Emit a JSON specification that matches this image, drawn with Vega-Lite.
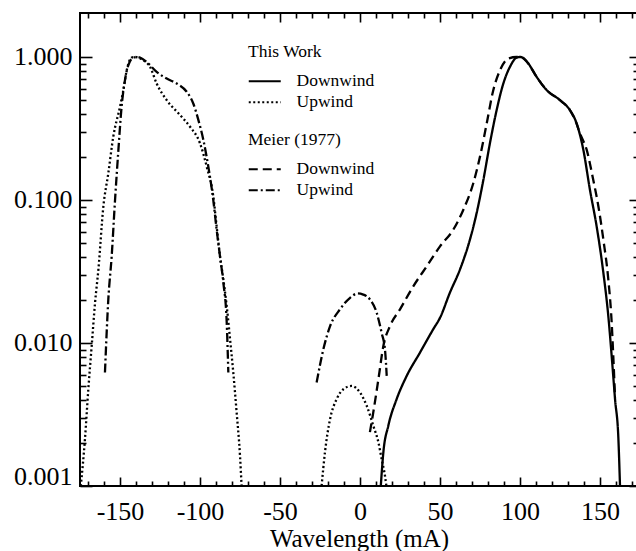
{
  "$schema": "https://vega.github.io/schema/vega-lite/v6.json",
  "width": 558,
  "height": 473,
  "autosize": "none",
  "padding": {"left": 80, "top": 13, "right": 0, "bottom": 65},
  "background": "white",
  "config": {
    "view": {"stroke": "black", "strokeWidth": 2},
    "font": "Liberation Serif",
    "axis": {
      "domain": false, "tickColor": "black", "tickWidth": 1.6,
      "labelColor": "black", "labelFont": "Liberation Serif", "labelFontSize": 26,
      "titleFont": "Liberation Serif", "titleFontSize": 25, "titleColor": "black",
      "titleFontWeight": "normal", "grid": false
    },
    "legend": {
      "labelFont": "Liberation Serif", "labelFontSize": 17.5, "labelColor": "black",
      "titleFont": "Liberation Serif", "titleFontSize": 17.5, "titleColor": "black",
      "titleFontWeight": "normal", "titlePadding": 12, "rowPadding": 2,
      "symbolType": "M-2,0H6", "symbolSize": 64, "symbolStrokeWidth": 2,
      "symbolStrokeColor": "black", "labelOffset": 31, "padding": 0
    }
  },
  "data": {"values": [
    {"s":"T","w":"Downwind","p":"a","x":13,"y":0.001},
    {"s":"T","w":"Downwind","p":"a","x":14.6,"y":0.00172},
    {"s":"T","w":"Downwind","p":"a","x":17.7,"y":0.00264},
    {"s":"T","w":"Downwind","p":"a","x":22.9,"y":0.00405},
    {"s":"T","w":"Downwind","p":"a","x":29.2,"y":0.00589},
    {"s":"T","w":"Downwind","p":"a","x":37.5,"y":0.00857},
    {"s":"T","w":"Downwind","p":"a","x":45.8,"y":0.0125},
    {"s":"T","w":"Downwind","p":"a","x":50,"y":0.015},
    {"s":"T","w":"Downwind","p":"a","x":56.2,"y":0.0225},
    {"s":"T","w":"Downwind","p":"a","x":62.5,"y":0.0327},
    {"s":"T","w":"Downwind","p":"a","x":68.7,"y":0.0528},
    {"s":"T","w":"Downwind","p":"a","x":72.9,"y":0.081},
    {"s":"T","w":"Downwind","p":"a","x":77.1,"y":0.138},
    {"s":"T","w":"Downwind","p":"a","x":81.2,"y":0.249},
    {"s":"T","w":"Downwind","p":"a","x":85.4,"y":0.425},
    {"s":"T","w":"Downwind","p":"a","x":89.6,"y":0.653},
    {"s":"T","w":"Downwind","p":"a","x":93.7,"y":0.852},
    {"s":"T","w":"Downwind","p":"a","x":97.9,"y":0.99},
    {"s":"T","w":"Downwind","p":"a","x":100,"y":1.0},
    {"s":"T","w":"Downwind","p":"a","x":101.5,"y":0.99},
    {"s":"T","w":"Downwind","p":"a","x":105.2,"y":0.9},
    {"s":"T","w":"Downwind","p":"a","x":110.4,"y":0.726},
    {"s":"T","w":"Downwind","p":"a","x":116.7,"y":0.586},
    {"s":"T","w":"Downwind","p":"a","x":125,"y":0.499},
    {"s":"T","w":"Downwind","p":"a","x":131.2,"y":0.425},
    {"s":"T","w":"Downwind","p":"a","x":135.4,"y":0.343},
    {"s":"T","w":"Downwind","p":"a","x":139.6,"y":0.224},
    {"s":"T","w":"Downwind","p":"a","x":143.7,"y":0.118},
    {"s":"T","w":"Downwind","p":"a","x":147.9,"y":0.0654},
    {"s":"T","w":"Downwind","p":"a","x":152.1,"y":0.031},
    {"s":"T","w":"Downwind","p":"a","x":155.2,"y":0.0154},
    {"s":"T","w":"Downwind","p":"a","x":157.3,"y":0.0081},
    {"s":"T","w":"Downwind","p":"a","x":159.4,"y":0.00405},
    {"s":"T","w":"Downwind","p":"a","x":161.5,"y":0.00213},
    {"s":"T","w":"Downwind","p":"a","x":162.5,"y":0.001},

    {"s":"T","w":"Upwind","p":"a","x":-174.5,"y":0.001},
    {"s":"T","w":"Upwind","p":"a","x":-171.9,"y":0.00213},
    {"s":"T","w":"Upwind","p":"a","x":-169.8,"y":0.00475},
    {"s":"T","w":"Upwind","p":"a","x":-167.7,"y":0.00953},
    {"s":"T","w":"Upwind","p":"a","x":-165.6,"y":0.0191},
    {"s":"T","w":"Upwind","p":"a","x":-163.5,"y":0.0327},
    {"s":"T","w":"Upwind","p":"a","x":-160.4,"y":0.0901},
    {"s":"T","w":"Upwind","p":"a","x":-157.3,"y":0.154},
    {"s":"T","w":"Upwind","p":"a","x":-154.2,"y":0.277},
    {"s":"T","w":"Upwind","p":"a","x":-150,"y":0.449},
    {"s":"T","w":"Upwind","p":"a","x":-147.9,"y":0.586},
    {"s":"T","w":"Upwind","p":"a","x":-145.8,"y":0.808},
    {"s":"T","w":"Upwind","p":"a","x":-142.7,"y":0.99},
    {"s":"T","w":"Upwind","p":"a","x":-140.5,"y":1.0},
    {"s":"T","w":"Upwind","p":"a","x":-138,"y":0.985},
    {"s":"T","w":"Upwind","p":"a","x":-135.4,"y":0.948},
    {"s":"T","w":"Upwind","p":"a","x":-131.2,"y":0.852},
    {"s":"T","w":"Upwind","p":"a","x":-127.1,"y":0.653},
    {"s":"T","w":"Upwind","p":"a","x":-120.8,"y":0.499},
    {"s":"T","w":"Upwind","p":"a","x":-112.5,"y":0.393},
    {"s":"T","w":"Upwind","p":"a","x":-106.2,"y":0.325},
    {"s":"T","w":"Upwind","p":"a","x":-100,"y":0.249},
    {"s":"T","w":"Upwind","p":"a","x":-95.8,"y":0.171},
    {"s":"T","w":"Upwind","p":"a","x":-91.7,"y":0.106},
    {"s":"T","w":"Upwind","p":"a","x":-89.6,"y":0.0654},
    {"s":"T","w":"Upwind","p":"a","x":-87.5,"y":0.0404},
    {"s":"T","w":"Upwind","p":"a","x":-85.4,"y":0.0278},
    {"s":"T","w":"Upwind","p":"a","x":-83.3,"y":0.0181},
    {"s":"T","w":"Upwind","p":"a","x":-81.2,"y":0.0106},
    {"s":"T","w":"Upwind","p":"a","x":-79.2,"y":0.00622},
    {"s":"T","w":"Upwind","p":"a","x":-77.1,"y":0.00327},
    {"s":"T","w":"Upwind","p":"a","x":-75,"y":0.00163},
    {"s":"T","w":"Upwind","p":"a","x":-74,"y":0.001},

    {"s":"T","w":"Upwind","p":"b","x":-24,"y":0.001},
    {"s":"T","w":"Upwind","p":"b","x":-21.9,"y":0.00172},
    {"s":"T","w":"Upwind","p":"b","x":-18.7,"y":0.00294},
    {"s":"T","w":"Upwind","p":"b","x":-14.6,"y":0.00405},
    {"s":"T","w":"Upwind","p":"b","x":-10.4,"y":0.00475},
    {"s":"T","w":"Upwind","p":"b","x":-5.2,"y":0.00501},
    {"s":"T","w":"Upwind","p":"b","x":0,"y":0.00451},
    {"s":"T","w":"Upwind","p":"b","x":4.2,"y":0.00364},
    {"s":"T","w":"Upwind","p":"b","x":8.3,"y":0.00264},
    {"s":"T","w":"Upwind","p":"b","x":11.5,"y":0.00202},
    {"s":"T","w":"Upwind","p":"b","x":13.5,"y":0.00155},
    {"s":"T","w":"Upwind","p":"b","x":15.6,"y":0.00118},
    {"s":"T","w":"Upwind","p":"b","x":16.5,"y":0.001},

    {"s":"M","w":"Downwind","p":"a","x":6.2,"y":0.00238},
    {"s":"M","w":"Downwind","p":"a","x":8.3,"y":0.00327},
    {"s":"M","w":"Downwind","p":"a","x":11.5,"y":0.00558},
    {"s":"M","w":"Downwind","p":"a","x":14.6,"y":0.00953},
    {"s":"M","w":"Downwind","p":"a","x":18.7,"y":0.0131},
    {"s":"M","w":"Downwind","p":"a","x":25,"y":0.0172},
    {"s":"M","w":"Downwind","p":"a","x":33.3,"y":0.0249},
    {"s":"M","w":"Downwind","p":"a","x":41.7,"y":0.0344},
    {"s":"M","w":"Downwind","p":"a","x":50,"y":0.0474},
    {"s":"M","w":"Downwind","p":"a","x":58.3,"y":0.062},
    {"s":"M","w":"Downwind","p":"a","x":64.6,"y":0.0855},
    {"s":"M","w":"Downwind","p":"a","x":70.8,"y":0.131},
    {"s":"M","w":"Downwind","p":"a","x":75,"y":0.201},
    {"s":"M","w":"Downwind","p":"a","x":79.2,"y":0.343},
    {"s":"M","w":"Downwind","p":"a","x":83.3,"y":0.586},
    {"s":"M","w":"Downwind","p":"a","x":87.5,"y":0.808},
    {"s":"M","w":"Downwind","p":"a","x":92.7,"y":0.975},
    {"s":"M","w":"Downwind","p":"a","x":97.9,"y":1.0},
    {"s":"M","w":"Downwind","p":"a","x":100,"y":1.0},
    {"s":"M","w":"Downwind","p":"a","x":101.5,"y":0.99},
    {"s":"M","w":"Downwind","p":"a","x":105.2,"y":0.9},
    {"s":"M","w":"Downwind","p":"a","x":110.4,"y":0.726},
    {"s":"M","w":"Downwind","p":"a","x":116.7,"y":0.586},
    {"s":"M","w":"Downwind","p":"a","x":125,"y":0.499},
    {"s":"M","w":"Downwind","p":"a","x":131.2,"y":0.425},
    {"s":"M","w":"Downwind","p":"a","x":135,"y":0.35},
    {"s":"M","w":"Downwind","p":"a","x":137.5,"y":0.292},
    {"s":"M","w":"Downwind","p":"a","x":141.7,"y":0.224},
    {"s":"M","w":"Downwind","p":"a","x":145.8,"y":0.138},
    {"s":"M","w":"Downwind","p":"a","x":149,"y":0.0901},
    {"s":"M","w":"Downwind","p":"a","x":152.1,"y":0.0528},
    {"s":"M","w":"Downwind","p":"a","x":155.2,"y":0.0278},
    {"s":"M","w":"Downwind","p":"a","x":157.3,"y":0.0139},
    {"s":"M","w":"Downwind","p":"a","x":158.3,"y":0.0081},
    {"s":"M","w":"Downwind","p":"a","x":159.4,"y":0.00416},

    {"s":"M","w":"Upwind","p":"a","x":-159.4,"y":0.00622},
    {"s":"M","w":"Upwind","p":"a","x":-157.3,"y":0.0202},
    {"s":"M","w":"Upwind","p":"a","x":-155.2,"y":0.0404},
    {"s":"M","w":"Upwind","p":"a","x":-153.1,"y":0.1},
    {"s":"M","w":"Upwind","p":"a","x":-151,"y":0.224},
    {"s":"M","w":"Upwind","p":"a","x":-149,"y":0.449},
    {"s":"M","w":"Upwind","p":"a","x":-146.9,"y":0.688},
    {"s":"M","w":"Upwind","p":"a","x":-144.8,"y":0.875},
    {"s":"M","w":"Upwind","p":"a","x":-141.7,"y":0.99},
    {"s":"M","w":"Upwind","p":"a","x":-139.6,"y":1.0},
    {"s":"M","w":"Upwind","p":"a","x":-137.5,"y":0.99},
    {"s":"M","w":"Upwind","p":"a","x":-133.3,"y":0.923},
    {"s":"M","w":"Upwind","p":"a","x":-127.1,"y":0.786},
    {"s":"M","w":"Upwind","p":"a","x":-120.8,"y":0.706},
    {"s":"M","w":"Upwind","p":"a","x":-114.6,"y":0.653},
    {"s":"M","w":"Upwind","p":"a","x":-108.3,"y":0.571},
    {"s":"M","w":"Upwind","p":"a","x":-104.2,"y":0.473},
    {"s":"M","w":"Upwind","p":"a","x":-101,"y":0.362},
    {"s":"M","w":"Upwind","p":"a","x":-97.9,"y":0.263},
    {"s":"M","w":"Upwind","p":"a","x":-94.8,"y":0.171},
    {"s":"M","w":"Upwind","p":"a","x":-91.7,"y":0.1},
    {"s":"M","w":"Upwind","p":"a","x":-89.6,"y":0.062},
    {"s":"M","w":"Upwind","p":"a","x":-87.5,"y":0.0404},
    {"s":"M","w":"Upwind","p":"a","x":-85.4,"y":0.0264},
    {"s":"M","w":"Upwind","p":"a","x":-83.3,"y":0.0139},
    {"s":"M","w":"Upwind","p":"a","x":-82.3,"y":0.00622},

    {"s":"M","w":"Upwind","p":"b","x":-27.1,"y":0.0053},
    {"s":"M","w":"Upwind","p":"b","x":-22.9,"y":0.00904},
    {"s":"M","w":"Upwind","p":"b","x":-18.7,"y":0.0131},
    {"s":"M","w":"Upwind","p":"b","x":-12.5,"y":0.0172},
    {"s":"M","w":"Upwind","p":"b","x":-6.2,"y":0.0207},
    {"s":"M","w":"Upwind","p":"b","x":-1.5,"y":0.0222},
    {"s":"M","w":"Upwind","p":"b","x":2,"y":0.0218},
    {"s":"M","w":"Upwind","p":"b","x":6.2,"y":0.0202},
    {"s":"M","w":"Upwind","p":"b","x":10.4,"y":0.0163},
    {"s":"M","w":"Upwind","p":"b","x":13.5,"y":0.0118},
    {"s":"M","w":"Upwind","p":"b","x":15.6,"y":0.00904},
    {"s":"M","w":"Upwind","p":"b","x":16.7,"y":0.00589}
  ]},
  "layer": [
    {
      "transform": [{"filter": "datum.s === 'T'"}],
      "mark": {"type": "line", "color": "black", "strokeWidth": 2.3, "interpolate": "monotone"},
      "encoding": {
        "x": {"field": "x", "type": "quantitative",
          "scale": {"domain": [-175, 173.75], "nice": false, "zero": false},
          "axis": {"orient": "bottom", "values": [-150, -100, -50, 0, 50, 100, 150],
            "offset": -9, "tickSize": 9, "labelPadding": 12, "labelFlush": false, "labelOverlap": false,
            "labelExpr": "datum.value < 0 ? '-' + abs(datum.value) : '' + datum.value",
            "title": "Wavelength (mA)", "titleBaseline": "alphabetic", "titleY": 69}},
        "y": {"field": "y", "type": "quantitative",
          "scale": {"type": "log", "domain": [0.001, 2.03], "nice": false},
          "axis": {"orient": "left", "values": [0.001, 0.01, 0.1, 1], "format": ".3f",
            "offset": -12, "tickSize": 12, "labelPadding": 8, "labelFlush": true, "labelFlushOffset": 3,
            "labelOverlap": false, "title": null}},
        "strokeDash": {"field": "w", "type": "nominal",
          "scale": {"domain": ["Downwind", "Upwind"], "range": [[1, 0], [2, 2.5]]},
          "legend": {"title": "This Work", "orient": "none", "legendX": 168, "legendY": 30}},
        "detail": {"field": "p", "type": "nominal"}
      }
    },
    {
      "transform": [{"filter": "datum.s === 'M'"}],
      "mark": {"type": "line", "color": "black", "strokeWidth": 2.3, "interpolate": "monotone"},
      "encoding": {
        "x": {"field": "x", "type": "quantitative",
          "axis": {"orient": "bottom", "values": [-170, -160, -140, -130, -120, -110, -90, -80, -70, -60, -40, -30, -20, -10, 10, 20, 30, 40, 60, 70, 80, 90, 110, 120, 130, 140, 160, 170],
            "offset": -5, "tickSize": 5, "labels": false, "title": null}},
        "y": {"field": "y", "type": "quantitative",
          "axis": {"orient": "left", "values": [0.002, 0.003, 0.004, 0.005, 0.006, 0.007, 0.008, 0.009, 0.02, 0.03, 0.04, 0.05, 0.06, 0.07, 0.08, 0.09, 0.2, 0.3, 0.4, 0.5, 0.6, 0.7, 0.8, 0.9],
            "offset": -6, "tickSize": 6, "labels": false, "title": null}},
        "strokeDash": {"field": "w", "type": "nominal",
          "scale": {"domain": ["Downwind", "Upwind"], "range": [[9, 5], [9, 3, 2, 3]]},
          "legend": {"title": "Meier (1977)", "orient": "none", "legendX": 168, "legendY": 118}},
        "detail": {"field": "p", "type": "nominal"}
      }
    },
    {
      "mark": {"type": "line", "opacity": 0},
      "encoding": {
        "x": {"field": "x", "type": "quantitative",
          "axis": {"orient": "top", "values": [-150, -100, -50, 0, 50, 100, 150], "offset": -9, "tickSize": 9, "labels": false, "title": null}},
        "y": {"field": "y", "type": "quantitative",
          "axis": {"orient": "right", "values": [0.001, 0.01, 0.1, 1], "offset": -9, "tickSize": 9, "labels": false, "title": null}},
        "detail": {"field": "p", "type": "nominal"}
      }
    },
    {
      "mark": {"type": "line", "opacity": 0},
      "encoding": {
        "x": {"field": "x", "type": "quantitative",
          "axis": {"orient": "top", "values": [-170, -160, -140, -130, -120, -110, -90, -80, -70, -60, -40, -30, -20, -10, 10, 20, 30, 40, 60, 70, 80, 90, 110, 120, 130, 140, 160, 170],
            "offset": -5, "tickSize": 5, "labels": false, "title": null}},
        "y": {"field": "y", "type": "quantitative",
          "axis": {"orient": "right", "values": [0.002, 0.003, 0.004, 0.005, 0.006, 0.007, 0.008, 0.009, 0.02, 0.03, 0.04, 0.05, 0.06, 0.07, 0.08, 0.09, 0.2, 0.3, 0.4, 0.5, 0.6, 0.7, 0.8, 0.9],
            "offset": -5, "tickSize": 5, "labels": false, "title": null}},
        "detail": {"field": "p", "type": "nominal"}
      }
    }
  ],
  "resolve": {"scale": {"strokeDash": "independent"}, "axis": {"x": "independent", "y": "independent"}}
}
